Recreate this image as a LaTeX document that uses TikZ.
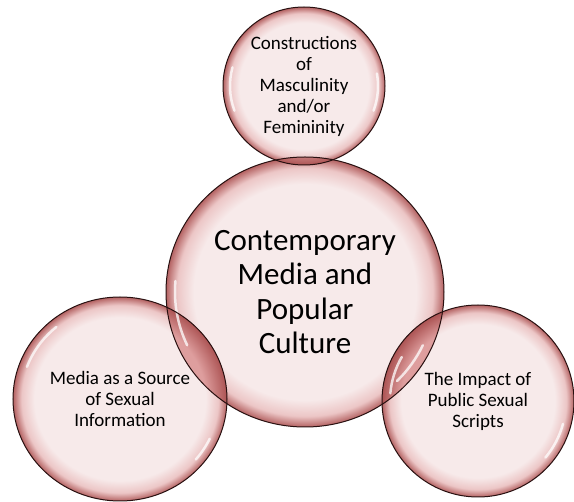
\documentclass[tikz,border=0pt]{standalone}
\usepackage{fontspec}
\setmainfont{Carlito}
\usepackage{xcolor}
\usetikzlibrary{shapes.geometric}
\definecolor{bubin}{RGB}{247,234,234}
\definecolor{bubmid}{RGB}{236,198,198}
\definecolor{bubrim}{RGB}{180,98,98}
\definecolor{lensin}{RGB}{222,158,158}
\definecolor{lensrim}{RGB}{172,84,84}
\definecolor{rimline}{RGB}{40,16,16}
\pgfdeclareradialshading{bubble}{\pgfpoint{0bp}{0bp}}{color(0bp)=(bubin); color(20bp)=(bubin); color(23bp)=(bubmid); color(25bp)=(bubrim); color(50bp)=(bubrim)}
\pgfdeclareradialshading{lens}{\pgfpoint{0bp}{0bp}}{color(0bp)=(lensin); color(20bp)=(lensin); color(25bp)=(lensrim); color(50bp)=(lensrim)}
\tikzset{bubblenode/.style={ellipse, shade, shading=bubble, inner sep=0pt},outline/.style={draw=rimline, line width=1pt}}
\tikzset{gloss/.style={white, line width=2.5pt, line cap=round, opacity=0.75}}

\begin{document}
\begin{tikzpicture}[
        x=1pt, y=-1pt,
        bigtext/.style={align=center, text=black, font=\fontsize{31}{34.5}\selectfont},
        smalltext/.style={align=center, text=black, font=\fontsize{19}{21}\selectfont}
    ]
        \useasboundingbox (0, 0) rectangle (574, 502);
        % Circles
        \node[bubblenode, minimum width=278pt, minimum height=270pt] (core) at (305, 292) {};
        \node[bubblenode, minimum width=162pt, minimum height=158pt] (top) at (304, 86) {};
        \node[bubblenode, minimum width=214pt, minimum height=204pt] (left) at (120, 399) {};
        \node[bubblenode, minimum width=192pt, minimum height=192pt] (right) at (478, 401) {};
        % Overlaps
        \foreach \a/\ax/\ay/\b/\bx/\by in {
            core/139/135/top/81/79, 
            core/139/135/left/107/102, 
            core/139/135/right/96/96} {
            \begin{scope}
                \clip (\a.center) ellipse (\ax pt and \ay pt);
                \shade[shading=lens] (\b.center) ellipse (\bx pt and \by pt);
            \end{scope}
        }
        % Gloss
        \draw[gloss] (core.center) ++(175:130pt and 126pt) arc[start angle=175, end angle=205, x radius=130pt, y radius=126pt];
        \draw[gloss] (core.center) ++(-25:130pt and 126pt) arc[start angle=-25, end angle=-45, x radius=130pt, y radius=126pt];
        \draw[gloss] (top.center) ++(165:74pt and 72pt) arc[start angle=165, end angle=200, x radius=74pt, y radius=72pt];
        \draw[gloss] (top.center) ++(10:74pt and 72pt) arc[start angle=10, end angle=-20, x radius=74pt, y radius=72pt];
        \draw[gloss] (left.center) ++(130:99pt and 94pt) arc[start angle=130, end angle=160, x radius=99pt, y radius=94pt];
        \draw[gloss] (left.center) ++(-25:99pt and 94pt) arc[start angle=-25, end angle=-40, x radius=99pt, y radius=94pt];
        \draw[gloss] (right.center) ++(-15:88pt and 88pt) arc[start angle=-15, end angle=-40, x radius=88pt, y radius=88pt];
        \draw[gloss] (right.center) ++(150:88pt and 88pt) arc[start angle=150, end angle=175, x radius=88pt, y radius=88pt];
        % Outlines
        \foreach \n/\rx/\ry in {core/139/135, top/81/79, left/107/102, right/96/96} {
            \draw[outline] (\n.center) ellipse (\rx pt and \ry pt);
        }
        % Labels
        \node[bigtext] (coretext) at (core) {Contemporary\\Media and\\Popular\\Culture};
        \node[smalltext] (toptext) at (top) {Constructions\\of\\Masculinity\\and/or\\Femininity};
        \node[smalltext] (lefttext) at (left) {Media as a Source\\of Sexual\\Information};
        \node[smalltext] (righttext) at (right) {The Impact of\\Public Sexual\\Scripts};
    \end{tikzpicture}
\end{document}
